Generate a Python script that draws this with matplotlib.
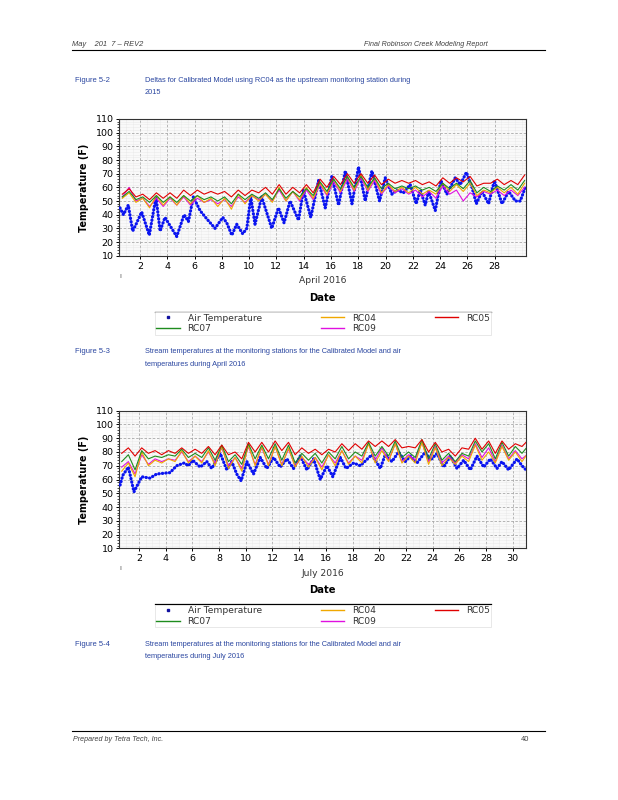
import numpy as np
import matplotlib
matplotlib.use("Agg")
import matplotlib.pyplot as plt
from matplotlib import font_manager
from matplotlib.lines import Line2D
from matplotlib.ticker import MultipleLocator

# --- April 2016: air temperature turning points (day of month, deg F)
apr_air_x = [0.53, 0.78, 1.14, 1.46, 1.71, 2.12, 2.68, 3.17, 3.47, 3.83, 4.69, 5.23, 5.55, 5.91,
             6.40, 6.89, 7.50, 8.07, 8.36, 8.73, 9.09, 9.53, 9.83, 10.12, 10.43, 10.92, 11.66,
             12.15, 12.56, 13.00, 13.62, 13.98, 14.52, 15.09, 15.58, 16.06, 16.56, 17.05, 17.54,
             18.02, 18.51, 19.00, 19.56, 19.98, 20.47, 20.84, 21.32, 21.81, 22.25, 22.55, 22.91,
             23.16, 23.65, 24.06, 24.50, 25.11, 25.48, 25.93, 26.34, 26.66, 27.07, 27.56, 27.98,
             28.54, 29.03, 29.52, 29.88, 30.25]
apr_air_f = [45, 40, 47, 28, 33, 42, 25, 53, 28, 38, 24, 40, 35, 53,
             43, 37, 30, 38, 34, 25, 33, 26, 30, 53, 33, 53, 30,
             45, 34, 50, 36, 58, 38, 65, 45, 68, 47, 72, 48,
             75, 50, 72, 50, 67, 55, 58, 56, 62, 48, 58, 47,
             57, 43, 65, 55, 67, 62, 71, 60, 48, 57, 48, 65,
             48, 57, 50, 50, 60]

# --- April 2016: stream stations, daily low / high (deg F)
apr_days = list(range(1, 31))
apr_rc05_lo = [55, 53, 51, 52, 52, 54, 55, 55, 53, 54, 56, 55, 55, 56, 56,
               60, 62, 63, 63, 62, 63, 63, 62, 61, 63, 64, 61, 63, 62, 62]
apr_rc05_hi = [59, 55, 56, 56, 58, 58, 57, 57, 58, 58, 60, 62, 60, 62, 66,
               68, 70, 70, 69, 66, 65, 65, 64, 67, 67, 68, 63, 66, 65, 69]
apr_rc07_lo = [53, 51, 49, 49, 49, 50, 51, 50, 48, 51, 52, 51, 52, 53, 54,
               57, 59, 60, 60, 59, 59, 59, 58, 57, 59, 59, 56, 57, 58, 58]
apr_rc07_hi = [57, 53, 54, 53, 54, 54, 53, 53, 55, 55, 56, 59, 57, 59, 64,
               66, 68, 68, 67, 63, 61, 61, 60, 63, 63, 65, 60, 61, 62, 65]
apr_rc04_lo = [52, 49, 45, 47, 47, 48, 49, 46, 44, 48, 50, 49, 50, 51, 52,
               55, 57, 58, 58, 56, 57, 56, 55, 55, 57, 57, 54, 56, 56, 55]
apr_rc04_hi = [56, 52, 54, 53, 54, 54, 52, 52, 55, 54, 55, 60, 57, 60, 63,
               66, 68, 69, 67, 62, 60, 60, 58, 63, 62, 63, 58, 60, 60, 63]
apr_rc09_lo = [53, 50, 46, 46, 47, 47, 49, 48, 46, 49, 51, 50, 50, 50, 51,
               54, 56, 57, 57, 55, 56, 55, 53, 52, 55, 50, 53, 55, 54, 54]
apr_rc09_hi = [60, 52, 52, 52, 53, 52, 51, 51, 53, 54, 55, 58, 57, 58, 62,
               64, 66, 67, 65, 61, 59, 58, 57, 61, 58, 56, 57, 58, 58, 60]

# --- July 2016: air temperature turning points
jul_air_x = [0.58, 0.78, 1.20, 1.62, 2.20, 2.82, 3.32, 4.32, 4.82, 5.38, 5.70, 6.02, 6.58,
             7.08, 7.45, 8.08, 8.58, 8.95, 9.32, 9.65, 10.08, 10.58, 11.08, 11.58, 12.08,
             12.58, 13.08, 13.58, 14.08, 14.58, 15.08, 15.58, 16.08, 16.52, 17.08, 17.52,
             18.08, 18.58, 19.45, 20.08, 20.45, 20.95, 21.45, 21.95, 22.33, 22.83, 23.45,
             23.83, 24.33, 24.83, 25.33, 25.83, 26.33, 26.83, 27.33, 27.83, 28.33, 28.83,
             29.20, 29.70, 30.33, 30.70, 31.00]
jul_air_f = [56, 63, 69, 51, 62, 61, 64, 65, 70, 72, 70, 74, 69,
             73, 68, 79, 67, 73, 64, 59, 73, 64, 76, 68, 76,
             69, 75, 68, 77, 67, 75, 60, 70, 62, 76, 68,
             72, 70, 78, 68, 78, 73, 80, 73, 77, 72, 80,
             74, 79, 69, 77, 68, 74, 67, 77, 69, 75, 68,
             73, 67, 75, 70, 67]

jul_days = list(range(1, 32))
jul_rc05_lo = [79, 77, 79, 78, 79, 79, 79, 78, 78, 75, 80, 80, 81, 78, 79, 78,
               80, 81, 82, 84, 84, 83, 83, 80, 80, 77, 82, 82, 79, 82, 84]
jul_rc05_hi = [83, 83, 81, 81, 83, 82, 84, 85, 80, 87, 87, 88, 87, 83, 82, 82,
               86, 86, 88, 88, 89, 84, 89, 87, 82, 83, 90, 88, 88, 86, 89]
jul_rc07_lo = [73, 67, 75, 76, 77, 76, 76, 74, 73, 71, 75, 75, 74, 72, 74, 72,
               75, 75, 77, 77, 77, 76, 76, 75, 74, 73, 77, 80, 75, 77, 79]
jul_rc07_hi = [78, 81, 77, 78, 82, 79, 83, 85, 78, 86, 85, 86, 85, 79, 79, 80,
               84, 80, 87, 84, 88, 80, 89, 86, 79, 79, 88, 86, 87, 84, 85]
jul_rc04_lo = [66, 62, 70, 72, 73, 72, 72, 70, 68, 66, 70, 70, 70, 69, 69, 67,
               70, 71, 72, 72, 73, 72, 72, 71, 70, 71, 73, 74, 72, 74, 73]
jul_rc04_hi = [72, 80, 74, 75, 81, 77, 81, 84, 76, 85, 84, 84, 83, 77, 76, 78,
               81, 77, 86, 81, 86, 77, 87, 83, 76, 77, 85, 80, 84, 80, 80]
jul_rc09_lo = [69, 64, 71, 73, 74, 73, 73, 72, 70, 68, 71, 71, 71, 70, 71, 69,
               72, 72, 74, 74, 74, 73, 74, 73, 72, 72, 75, 76, 73, 75, 75]
jul_rc09_hi = [73, 78, 75, 75, 80, 77, 80, 83, 76, 84, 83, 84, 82, 76, 76, 78,
               81, 77, 86, 83, 86, 78, 87, 84, 77, 78, 86, 83, 85, 81, 79]

station_names = ["RC04", "RC05", "RC07", "RC09"]
station_colors = {"RC04": "#f0a800", "RC05": "#e00000", "RC07": "#1e8c1e", "RC09": "#e010e0"}
air_color = "#0a14f0"

W, H = 618, 800
names = {f.name for f in font_manager.fontManager.ttflist}
narrow = "Liberation Sans Narrow" if "Liberation Sans Narrow" in names else "Liberation Sans"
cap_color = "#2a46a0"


def fx(x):
    return x / W


def fy(y):
    return 1 - y / H


def daily_series(days, lo, hi):
    d = np.asarray(days, dtype=float)
    x = np.column_stack([d - 0.3, d + 0.2]).ravel()
    y = np.column_stack([lo, hi]).ravel()
    return x, y


fig = plt.figure(figsize=(W / 100, H / 100), dpi=100)

# page header / footer
fig.text(fx(72), fy(44), "May    201  7 \u2013 REV2", fontsize=5.4, family=narrow,
         style="italic", color="#404040", va="center")
fig.text(fx(488), fy(44), "Final Robinson Creek Modeling Report", fontsize=5.1, family=narrow,
         style="italic", color="#404040", va="center", ha="right")
fig.add_artist(Line2D([fx(72), fx(545)], [fy(49.5), fy(49.5)], color="black", lw=0.8))
fig.add_artist(Line2D([fx(72), fx(545)], [fy(731), fy(731)], color="black", lw=0.8))
fig.text(fx(73), fy(739.5), "Prepared by Tetra Tech, Inc.", fontsize=5.1, family=narrow,
         style="italic", color="#404040", va="center")
fig.text(fx(529), fy(739.5), "40", fontsize=5.4, family=narrow, color="#404040",
         va="center", ha="right")


def caption(y1, num, line1, line2):
    fig.text(fx(75), fy(y1), num, fontsize=5.5, family=narrow, color=cap_color, va="center")
    fig.text(fx(145), fy(y1), line1, fontsize=5.3, family=narrow, color=cap_color, va="center")
    fig.text(fx(145), fy(y1 + 12), line2, fontsize=5.3, family=narrow, color=cap_color, va="center")


def panel(top, bottom, xlim, xticks, month, air_x, air_f, days, series):
    ax = fig.add_axes([fx(119.3), fy(bottom), (526 - 119.3) / W, (bottom - top) / H])
    ax.set_facecolor("#f9f9f9")
    ax.set_xlim(*xlim)
    ax.set_ylim(10, 110)
    ax.set_xticks(xticks)
    ax.set_xticklabels([str(t) for t in xticks])
    ax.yaxis.set_major_locator(MultipleLocator(10))
    ax.yaxis.set_minor_locator(MultipleLocator(2))
    ax.xaxis.set_minor_locator(MultipleLocator(0.5))
    ax.grid(which="major", color="#a8a8a8", lw=0.6, ls=(0, (3, 2)))
    ax.grid(which="minor", color="#dedede", lw=0.4, ls=(0, (1, 1)))
    ax.set_axisbelow(True)
    ax.tick_params(which="major", direction="out", length=2.2, width=0.7, labelsize=6.8, pad=2)
    ax.tick_params(which="minor", length=0)
    ax.tick_params(axis="y", which="minor", length=1.2, width=0.5)
    for s in ax.spines.values():
        s.set_color("#333333")
        s.set_linewidth(0.8)

    ax.plot(air_x, air_f, color=air_color, lw=2.3, ls=(0, (0.1, 1.0)),
            solid_capstyle="round", dash_capstyle="round", zorder=3)
    for name in ["RC09", "RC04", "RC07", "RC05"]:
        lo, hi = series[name]
        x, y = daily_series(days, lo, hi)
        ax.plot(x, y, color=station_colors[name], lw=0.8, zorder=4)

    mid = (119.3 + 526) / 2
    fig.text(fx(84), fy((top + bottom) / 2), "Temperature (F)", rotation=90, fontsize=6.9,
             weight="bold", ha="center", va="center")
    fig.text(fx(mid), fy(bottom + 25), month, fontsize=6.6, ha="center", va="center",
             color="#333333")
    fig.text(fx(mid), fy(bottom + 42), "Date", fontsize=7.2, weight="bold", ha="center",
             va="center")
    fig.text(fx(120.5), fy(bottom + 20), "\u0131", fontsize=5, ha="center", va="center",
             color="#555555")

    # legend under the chart
    ly = bottom + 56
    fig.add_artist(Line2D([fx(155), fx(491)], [fy(ly), fy(ly)], color="black", lw=0.9))
    h_air = Line2D([], [], marker="s", markersize=1.6, ls="none", color="#1010a0")
    h = {n: Line2D([], [], color=station_colors[n], lw=1.0) for n in station_names}
    handles = [h_air, h["RC07"], h["RC04"], h["RC09"], h["RC05"]]
    labels = ["Air Temperature", "RC07", "RC04", "RC09", "RC05"]
    leg = fig.legend(handles, labels, loc="upper left", ncol=3, mode="expand",
                     bbox_to_anchor=(fx(155), fy(ly + 25), (491 - 155) / W, 24.5 / H),
                     fontsize=6.6, handlelength=2.6, handletextpad=0.8, borderpad=0.15,
                     labelspacing=0.2, borderaxespad=0, frameon=True, fancybox=False,
                     edgecolor="#e4e4e4", framealpha=1)
    leg.get_frame().set_linewidth(0.6)
    for t in leg.get_texts():
        t.set_color("#333333")
    return ax


caption(80, "Figure 5-2",
        "Deltas for Calibrated Model using RC04 as the upstream monitoring station during", "2015")

panel(119, 255.7, (0.48, 30.3), list(range(2, 30, 2)), "April 2016", apr_air_x, apr_air_f,
      apr_days, {"RC04": (apr_rc04_lo, apr_rc04_hi), "RC05": (apr_rc05_lo, apr_rc05_hi),
                 "RC07": (apr_rc07_lo, apr_rc07_hi), "RC09": (apr_rc09_lo, apr_rc09_hi)})

caption(352, "Figure 5-3",
        "Stream temperatures at the monitoring stations for the Calibrated Model and air",
        "temperatures during April 2016")

panel(410.7, 548.3, (0.52, 31.0), list(range(2, 32, 2)), "July 2016", jul_air_x, jul_air_f,
      jul_days, {"RC04": (jul_rc04_lo, jul_rc04_hi), "RC05": (jul_rc05_lo, jul_rc05_hi),
                 "RC07": (jul_rc07_lo, jul_rc07_hi), "RC09": (jul_rc09_lo, jul_rc09_hi)})

caption(645, "Figure 5-4",
        "Stream temperatures at the monitoring stations for the Calibrated Model and air",
        "temperatures during July 2016")

fig.savefig("out.png", dpi=100)
